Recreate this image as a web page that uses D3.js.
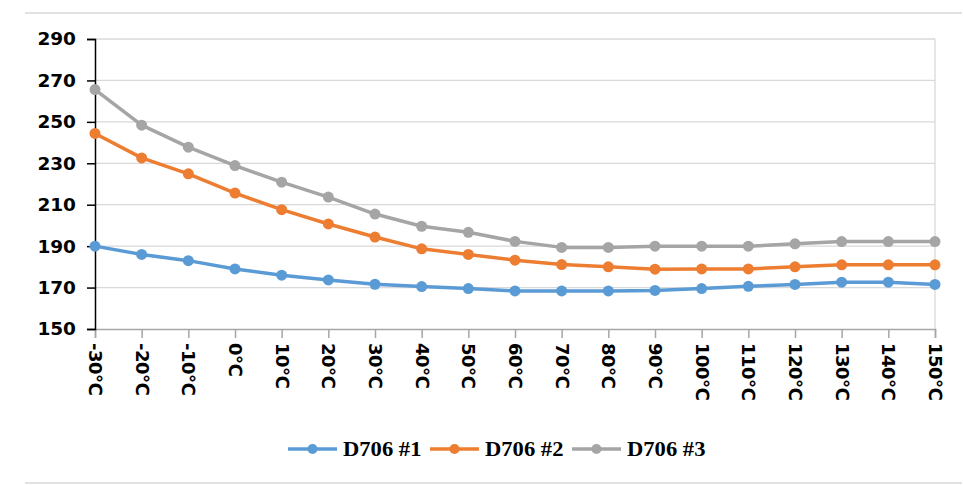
<!DOCTYPE html>
<html>
<head>
<meta charset="utf-8">
<script src="https://cdn.jsdelivr.net/npm/d3@7"></script>
<style>
  body { margin: 0; background: #fff; }
</style>
</head>
<body>
<svg id="svg" width="963" height="485"></svg>
<script>
const svg = d3.select("#svg");

const temps = [-30, -20, -10, 0, 10, 20, 30, 40, 50, 60, 70, 80, 90, 100, 110, 120, 130, 140, 150];
const d706_1 = [190, 186, 183, 179, 176, 173.7, 171.6, 170.5, 169.5, 168.4, 168.4, 168.4, 168.6, 169.5, 170.6, 171.5, 172.6, 172.6, 171.5];
const d706_2 = [244.4, 232.6, 224.9, 215.6, 207.6, 200.7, 194.4, 188.7, 186, 183.2, 181.1, 180, 178.9, 179, 179, 180, 181, 181, 181];
const d706_3 = [265.6, 248.4, 237.8, 228.9, 220.9, 213.7, 205.5, 199.6, 196.7, 192.3, 189.4, 189.4, 190, 190, 190, 191.1, 192.2, 192.2, 192.2];
const seriesNames = ["D706 #1", "D706 #2", "D706 #3"];
const yTicks = [150, 170, 190, 210, 230, 250, 270, 290];

const series = [d706_1, d706_2, d706_3].map((values, i) => ({ name: seriesNames[i], values }));

const plotLeft = 95, plotRight = 935, plotTop = 39, plotBottom = 329;

const x = d3.scalePoint(temps, [plotLeft, plotRight]);
const y = d3.scaleLinear([150, 290], [plotBottom, plotTop]);

const color = d3.scaleOrdinal(seriesNames, ["#5b9bd5", "#ed7d31", "#a5a5a5"]);

// frame lines top and bottom
svg.append("line").attr("x1", 25).attr("x2", 962).attr("y1", 13).attr("y2", 13)
  .style("stroke", "#d9d9d9").style("stroke-width", 1.5);
svg.append("line").attr("x1", 25).attr("x2", 962).attr("y1", 483).attr("y2", 483)
  .style("stroke", "#d9d9d9").style("stroke-width", 1.5);

// gridlines
svg.append("g")
  .selectAll("line")
  .data(yTicks.filter((d) => d !== 150))
  .join("line")
  .attr("x1", plotLeft).attr("x2", plotRight)
  .attr("y1", (d) => y(d)).attr("y2", (d) => y(d))
  .style("stroke", "#d9d9d9").style("stroke-width", 1.3);

// right border of plot
svg.append("line").attr("x1", plotRight).attr("x2", plotRight).attr("y1", plotTop).attr("y2", plotBottom)
  .style("stroke", "#d9d9d9").style("stroke-width", 1.3);

// x axis
const xAxis = svg.append("g")
  .attr("transform", `translate(0,${plotBottom})`)
  .call(d3.axisBottom(x).tickSize(9).tickPadding(7).tickFormat((d) => d + "℃"));
xAxis.select(".domain").style("stroke", "#a6a6a6").style("stroke-width", 1.5);
xAxis.selectAll(".tick line").style("stroke", "#a6a6a6").style("stroke-width", 1.5);
xAxis.selectAll("text")
  .attr("transform", "rotate(90)")
  .attr("x", 14).attr("y", 0).attr("dy", "0.36em")
  .attr("text-anchor", "start")
  .style("font-family", "DejaVu Sans").style("font-weight", "bold")
  .style("font-size", "18px").style("letter-spacing", "-0.5px").style("fill", "#000");

// y axis
const yAxis = svg.append("g")
  .attr("transform", `translate(${plotLeft},0)`)
  .call(d3.axisLeft(y).tickValues(yTicks).tickSize(8).tickPadding(11));
yAxis.select(".domain").style("stroke", "#000").style("stroke-width", 1.5);
yAxis.selectAll(".tick line").style("stroke", "#000").style("stroke-width", 1.5);
yAxis.selectAll("text")
  .style("font-family", "DejaVu Sans").style("font-weight", "bold")
  .style("font-size", "18.5px").style("fill", "#000");

// lines and markers
const line = d3.line().x((d, i) => x(temps[i])).y((d) => y(d));

const g = svg.append("g")
  .selectAll("g")
  .data(series)
  .join("g");

g.append("path")
  .attr("d", (d) => line(d.values))
  .style("fill", "none")
  .style("stroke", (d) => color(d.name))
  .style("stroke-width", 3.5)
  .style("stroke-linejoin", "round");

g.selectAll("circle")
  .data((d) => d.values.map((v, i) => ({ v, i, name: d.name })))
  .join("circle")
  .attr("cx", (d) => x(temps[d.i]))
  .attr("cy", (d) => y(d.v))
  .attr("r", 5.5)
  .style("fill", (d) => color(d.name));

// legend
const legendX = [288, 430, 572];
const legend = svg.append("g")
  .selectAll("g")
  .data(seriesNames)
  .join("g")
  .attr("transform", (d, i) => `translate(${legendX[i]},449)`);

legend.append("line")
  .attr("x1", 0).attr("x2", 49)
  .style("stroke", (d) => color(d)).style("stroke-width", 3.5);
legend.append("circle")
  .attr("cx", 24.5).attr("r", 5)
  .style("fill", (d) => color(d));
legend.append("text")
  .attr("transform", "translate(55,0) scale(1.13,1)")
  .attr("dy", "0.35em")
  .style("font-family", "Liberation Serif").style("font-weight", "bold")
  .style("font-size", "20px").style("fill", "#000")
  .text((d) => d);
</script>
</body>
</html>
